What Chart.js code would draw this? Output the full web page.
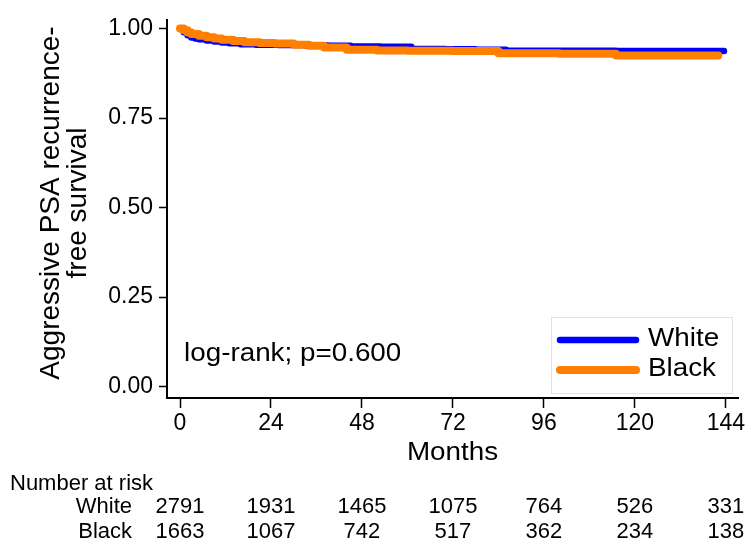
<!DOCTYPE html>
<html lang="en">
<head>
  <meta charset="UTF-8" />
  <title>Aggressive PSA recurrence-free survival</title>
  <script src="https://cdn.jsdelivr.net/npm/chart.js"></script>
  <style>
    html, body { margin: 0; padding: 0; background: #fff; }
    #wrap { width: 754px; height: 551px; }
  </style>
</head>
<body>
  <div id="wrap"><canvas id="km" width="754" height="551"></canvas></div>

  <script>
    // Kaplan-Meier estimates
    const whiteMonths = [0, 1, 2, 3, 4, 5, 7, 9, 11, 13, 16, 20, 26, 33, 39, 45, 53, 61, 70, 78, 86, 100, 115, 130, 143.5];
    const whiteSurv   = [1.000, 0.990, 0.981, 0.975, 0.972, 0.970, 0.967, 0.964, 0.961, 0.959, 0.956, 0.955, 0.954, 0.953, 0.952, 0.950, 0.949, 0.943, 0.942, 0.941, 0.938, 0.938, 0.937, 0.937, 0.937];

    const blackMonths = [0, 1, 2, 3, 5, 7, 9, 11, 14, 17, 21, 25, 30, 34, 38, 44, 52, 60, 72, 84, 100, 115, 130, 142];
    const blackSurv   = [1.000, 0.995, 0.989, 0.985, 0.980, 0.976, 0.972, 0.969, 0.965, 0.962, 0.960, 0.958, 0.955, 0.952, 0.947, 0.941, 0.939, 0.938, 0.937, 0.931, 0.930, 0.925, 0.925, 0.925];

    const xTicks = [0, 24, 48, 72, 96, 120, 144];
    const yTicks = [0, 0.25, 0.5, 0.75, 1];

    const groups = ['White', 'Black'];
    const atRiskWhite = [2791, 1931, 1465, 1075, 764, 526, 331];
    const atRiskBlack = [1663, 1067, 742, 517, 362, 234, 138];

    const pValueText = 'log-rank; p=0.600';
    const yTitle = ['Aggressive PSA recurrence-', 'free survival'];
    const xTitle = 'Months';

    const FONT = '"Liberation Sans", Arial, Helvetica, sans-serif';
    const colors = { White: '#0000ff', Black: '#ff7f00' };

    function pts(xs, ys) {
      return xs.map((m, i) => ({ x: m, y: ys[i] }));
    }

    // the big labels in the original are a little wider than the font
    function wideText(ctx, txt, x, y, sx) {
      ctx.save();
      ctx.translate(x, y);
      ctx.scale(sx, 1);
      ctx.fillText(txt, 0, 0);
      ctx.restore();
    }

    // titles, annotation, legend and risk table
    const extras = {
      id: 'extras',
      afterDraw(chart) {
        const ctx = chart.ctx;
        const xs = chart.scales.x;
        ctx.save();
        ctx.fillStyle = '#000';

        // y title
        ctx.font = '28px ' + FONT;
        ctx.textAlign = 'center';
        ctx.textBaseline = 'middle';
        ctx.save();
        ctx.translate(51, 203);
        ctx.rotate(-Math.PI / 2);
        ctx.fillText(yTitle[0], 0, 0);
        ctx.fillText(yTitle[1], 0, 27);
        ctx.restore();

        // x title
        ctx.font = '26px ' + FONT;
        ctx.textBaseline = 'alphabetic';
        wideText(ctx, xTitle, (chart.chartArea.left + chart.chartArea.right) / 2, 460, 1.07);

        // p value
        ctx.textAlign = 'left';
        wideText(ctx, pValueText, 184, 361, 1.07);

        // legend
        ctx.fillStyle = '#fff';
        ctx.strokeStyle = '#e2e2e2';
        ctx.lineWidth = 1;
        ctx.fillRect(551, 317, 181, 76);
        ctx.strokeRect(551.5, 317.5, 181, 76);
        ctx.lineCap = 'round';
        const legY = [340, 370];
        const legW = [6.5, 8];
        groups.forEach((g, i) => {
          ctx.strokeStyle = colors[g];
          ctx.lineWidth = legW[i];
          ctx.beginPath();
          ctx.moveTo(560, legY[i]);
          ctx.lineTo(636, legY[i]);
          ctx.stroke();
          ctx.fillStyle = '#000';
          ctx.textBaseline = 'middle';
          wideText(ctx, g, 648, legY[i] - 1, 1.07);
        });

        // number at risk
        ctx.font = '22px ' + FONT;
        ctx.textBaseline = 'alphabetic';
        ctx.textAlign = 'left';
        ctx.fillText('Number at risk', 10, 490);
        ctx.textAlign = 'right';
        ctx.fillText(groups[0], 132, 513);
        ctx.fillText(groups[1], 132, 538);
        ctx.textAlign = 'center';
        xTicks.forEach((t, i) => {
          const px = xs.getPixelForValue(t);
          ctx.fillText(String(atRiskWhite[i]), px, 513);
          ctx.fillText(String(atRiskBlack[i]), px, 538);
        });
        ctx.restore();
      }
    };

    new Chart(document.getElementById('km'), {
      type: 'line',
      data: {
        datasets: [
          {
            label: 'White',
            data: pts(whiteMonths, whiteSurv),
            borderColor: colors.White,
            borderWidth: 6.5,
            stepped: true,
            pointRadius: 0,
            borderCapStyle: 'round',
            borderJoinStyle: 'round',
            order: 2
          },
          {
            label: 'Black',
            data: pts(blackMonths, blackSurv),
            borderColor: colors.Black,
            borderWidth: 8,
            stepped: true,
            pointRadius: 0,
            borderCapStyle: 'round',
            borderJoinStyle: 'round',
            order: 1
          }
        ]
      },
      options: {
        responsive: false,
        animation: false,
        layout: { padding: { left: 0, top: 10, right: 16, bottom: 0 } },
        plugins: {
          legend: { display: false },
          tooltip: { enabled: false }
        },
        scales: {
          x: {
            type: 'linear',
            min: -3.43,
            max: 147.2,
            afterFit(s) { s.height = 153; },
            afterBuildTicks(s) { s.ticks = xTicks.map(v => ({ value: v })); },
            grid: { drawOnChartArea: false, tickLength: 10, tickColor: '#000', tickWidth: 1.5 },
            border: { color: '#000', width: 2 },
            ticks: {
              color: '#000',
              font: { family: FONT, size: 23 },
              padding: 2,
              maxRotation: 0
            }
          },
          y: {
            min: -0.032,
            max: 1.0245,
            afterFit(s) { s.width = 167; },
            afterBuildTicks(s) { s.ticks = yTicks.map(v => ({ value: v })); },
            grid: { drawOnChartArea: false, tickLength: 8, tickColor: '#000', tickWidth: 1.5 },
            border: { color: '#000', width: 2 },
            ticks: {
              color: '#000',
              font: { family: FONT, size: 23 },
              padding: 6,
              callback: v => v.toFixed(2)
            }
          }
        }
      },
      plugins: [extras]
    });
  </script>
</body>
</html>
